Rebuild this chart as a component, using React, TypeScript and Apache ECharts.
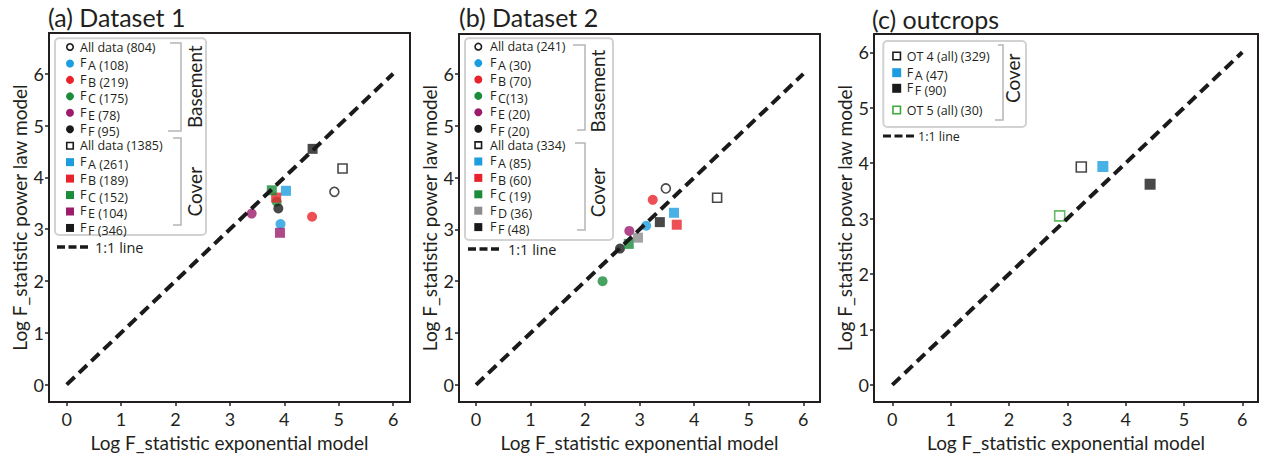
import React, { useEffect, useRef } from "react";
import * as echarts from "echarts";

// ---------- data ----------
const TICKS = [0, 1, 2, 3, 4, 5, 6];
const ONE_TO_ONE = [0, 6];

// Panel (a) Dataset 1
const aBasementNames = ["All data (804)", "F_A (108)", "F_B (219)", "F_C (175)", "F_E (78)", "F_F (95)"];
const aBasementX = [4.92, 3.93, 4.51, 3.86, 3.4, 3.89];
const aBasementY = [3.72, 3.1, 3.24, 3.53, 3.3, 3.4];
const aCoverNames = ["All data (1385)", "F_A (261)", "F_B (189)", "F_C (152)", "F_E (104)", "F_F (346)"];
const aCoverX = [5.07, 4.03, 3.85, 3.77, 3.92, 4.52];
const aCoverY = [4.17, 3.74, 3.61, 3.75, 2.93, 4.55];

// Panel (b) Dataset 2
const bBasementNames = ["All data (241)", "F_A (30)", "F_B (70)", "F_C(13)", "F_E (20)", "F_F (20)"];
const bBasementX = [3.48, 3.12, 3.24, 2.32, 2.81, 2.64];
const bBasementY = [3.79, 3.07, 3.57, 2.0, 2.97, 2.63];
const bCoverNames = ["All data (334)", "F_A (85)", "F_B (60)", "F_C (19)", "F_D (36)", "F_F (48)"];
const bCoverX = [4.42, 3.63, 3.68, 2.8, 2.97, 3.37];
const bCoverY = [3.61, 3.32, 3.09, 2.72, 2.84, 3.14];

// Panel (c) outcrops
const cNames = ["OT 4 (all) (329)", "F_A (47)", "F_F (90)", "OT 5 (all) (30)"];
const cX = [3.24, 3.61, 4.42, 2.87];
const cY = [3.93, 3.94, 3.62, 3.05];

const LINE_NAME = "1:1 line";

// ---------- styles ----------
const FONT = "Lato";
const LFONT = "Open Sans";
const TXT = "#231f20";
const BLUE = "#1b9de0";
const RED = "#e8232b";
const GREEN = "#1a8c3c";
const PURPLE = "#9c1b6b";
const BLACK = "#1a1a1a";
const GRAY = "#8c8c8c";
const OPEN_GREEN = "#3cab3a";

const aBasementColors = ["open", BLUE, RED, GREEN, PURPLE, BLACK];
const aCoverColors = ["open", BLUE, RED, GREEN, PURPLE, BLACK];
const bBasementColors = ["open", BLUE, RED, GREEN, PURPLE, BLACK];
const bCoverColors = ["open", BLUE, RED, GREEN, GRAY, BLACK];
const cColors = ["open", BLUE, BLACK, "openGreen"];

function markerStyle(c: string) {
  if (c === "open") return { color: "#ffffff", borderColor: BLACK, borderWidth: 1.6 };
  if (c === "openGreen") return { color: "#ffffff", borderColor: OPEN_GREEN, borderWidth: 1.6 };
  return { color: c, borderWidth: 0 };
}

function pointSeries(names: string[], xs: number[], ys: number[], colors: string[], symbol: string, idx: number, size: number) {
  return names.map((name, i) => ({
    type: "scatter",
    name,
    xAxisIndex: idx,
    yAxisIndex: idx,
    symbol,
    symbolSize: colors[i].startsWith("open") ? size - 1 : size,
    data: [[xs[i], ys[i]]],
    itemStyle: markerStyle(colors[i]),
    z: 3,
    silent: true,
  }));
}

// ---------- legend drawn with graphic elements ----------
function legendMarker(shape: string, color: string, cx: number, cy: number, s: number) {
  const open = color.startsWith("open");
  const stroke = color === "openGreen" ? OPEN_GREEN : BLACK;
  const style = open
    ? { fill: "#ffffff", stroke, lineWidth: 1.6 }
    : { fill: color, stroke: "none", lineWidth: 0 };
  const size = open ? s - 1.5 : s;
  if (shape === "circle") {
    return { type: "circle", shape: { cx, cy, r: size / 2 }, style, silent: true };
  }
  return { type: "rect", shape: { x: cx - size / 2, y: cy - size / 2, width: size, height: size }, style, silent: true };
}

function legendLabel(name: string, x: number, y: number, fs: number) {
  const base = { fontSize: fs, fontFamily: LFONT, fill: TXT, verticalAlign: "middle", align: "left" };
  if (name.startsWith("F_")) {
    return [
      { type: "text", x, y: y - 0.6, style: { ...base, text: "F" }, silent: true },
      { type: "text", x: x + 8.1, y: y + 2.3, style: { ...base, text: name.slice(2) }, silent: true },
    ];
  }
  return [{ type: "text", x, y, style: { ...base, text: name }, silent: true }];
}

function legendRows(names: string[], shapes: string[], colors: string[], mx: number, tx: number, ys: number[], ms: number, fs: number) {
  const out: any[] = [];
  names.forEach((n, i) => {
    out.push(legendMarker(shapes[i], colors[i], mx, ys[i], ms));
    out.push(...legendLabel(n, tx, ys[i], fs));
  });
  return out;
}

function lineKey(x1: number, x2: number, y: number, tx: number, fs: number, w: number) {
  return [
    {
      type: "line",
      shape: { x1, y1: y, x2, y2: y },
      style: { stroke: BLACK, lineWidth: w, lineDash: [8, 3.5] },
      silent: true,
    },
    {
      type: "text",
      x: tx,
      y,
      style: { text: LINE_NAME, fontSize: fs, fontFamily: LFONT, fill: TXT, verticalAlign: "middle", align: "left" },
      silent: true,
    },
  ];
}

function bracket(x: number, y1: number, y2: number, l1: number, l2: number) {
  return {
    type: "polyline",
    shape: { points: [[l1, y1], [x, y1], [x, y2], [l2, y2]] },
    style: { stroke: "#b5b5b5", lineWidth: 1.5, fill: "none" },
    silent: true,
  };
}
function box(x: number, y: number, w: number, h: number) {
  return {
    type: "rect",
    shape: { x, y, width: w, height: h, r: 4 },
    style: { stroke: "#d2d2d2", lineWidth: 2, fill: "none" },
    silent: true,
  };
}
function vtext(text: string, x: number, y: number) {
  return {
    type: "text",
    x,
    y,
    rotation: Math.PI / 2,
    style: { text, fontSize: 19, fontFamily: FONT, fill: TXT, align: "center", verticalAlign: "middle" },
    silent: true,
  };
}

function axisPair(idx: number, xr: number[], yr: number[]) {
  const label = { customValues: TICKS, fontSize: 18, color: TXT, fontFamily: FONT };
  const tick = { show: true, length: 4, inside: false, customValues: TICKS, lineStyle: { color: TXT, width: 1.5 } };
  const nameStyle = { fontSize: 19, color: TXT, fontFamily: FONT };
  return {
    x: {
      gridIndex: idx,
      type: "value",
      min: xr[0],
      max: xr[1],
      splitLine: { show: false },
      axisLine: { show: false, onZero: false },
      axisTick: tick,
      axisLabel: { ...label, margin: 8 },
      name: "Log F_statistic exponential model",
      nameLocation: "middle",
      nameGap: 24,
      nameTextStyle: nameStyle,
    },
    y: {
      gridIndex: idx,
      type: "value",
      min: yr[0],
      max: yr[1],
      splitLine: { show: false },
      axisLine: { show: false, onZero: false },
      axisTick: tick,
      axisLabel: { ...label, margin: 5 },
      name: "Log F_statistic power law model",
      nameLocation: "middle",
      nameGap: 20,
      nameTextStyle: nameStyle,
    },
  };
}

const rowsY = (y0: number, step: number, n: number) => Array.from({ length: n }, (_, i) => y0 + i * step);

export default function App() {
  const ref = useRef<HTMLDivElement>(null);
  useEffect(() => {
    if (!ref.current) return;
    const chart = echarts.init(ref.current, null, { renderer: "svg" });
    const A = axisPair(0, [-0.325, 6.31], [-0.338, 6.786]);
    const B = axisPair(1, [-0.312, 6.306], [-0.333, 6.77]);
    const C = axisPair(2, [-0.314, 6.27], [-0.31, 6.33]);
    const lineSeries = (idx: number) => ({
      type: "line",
      name: LINE_NAME,
      xAxisIndex: idx,
      yAxisIndex: idx,
      data: ONE_TO_ONE.map((v) => [v, v]),
      symbol: "none",
      lineStyle: { color: BLACK, width: 4, type: [11, 6] },
      z: 4,
      silent: true,
    });
    const titleStyle = { fontSize: 25, fontWeight: "normal", fontFamily: FONT, color: TXT };
    const six = (s: string) => [s, s, s, s, s, s];
    const aNames = [...aBasementNames, ...aCoverNames];
    const bNames = [...bBasementNames, ...bCoverNames];
    const LFS = 12.5;
    chart.setOption({
      animation: false,
      backgroundColor: "#ffffff",
      title: [
        { text: "(a) Dataset 1", left: 48, top: 4, padding: 0, textStyle: titleStyle },
        { text: "(b) Dataset 2", left: 459, top: 4, padding: 0, textStyle: titleStyle },
        { text: "(c) outcrops", left: 872, top: 6, padding: 0, textStyle: titleStyle },
      ],
      grid: [
        { left: 49, top: 33, width: 361, height: 379, show: true, borderColor: TXT, borderWidth: 2, backgroundColor: "transparent" },
        { left: 459, top: 34, width: 361, height: 378, show: true, borderColor: TXT, borderWidth: 2, backgroundColor: "transparent" },
        { left: 874, top: 34, width: 384, height: 377, show: true, borderColor: TXT, borderWidth: 2, backgroundColor: "transparent" },
      ],
      xAxis: [A.x, B.x, C.x],
      yAxis: [A.y, B.y, C.y],
      graphic: [
        // panel (a) legend
        box(55, 38.3, 151, 196.7),
        ...legendRows(aNames, [...six("circle"), ...six("rect")], [...aBasementColors, ...aCoverColors], 70, 80, rowsY(47, 16.45, 12), 8, LFS),
        bracket(181, 43, 131, 170, 168),
        bracket(181, 138, 225, 173, 173),
        vtext("Basement", 194, 86.7),
        vtext("Cover", 194, 191.7),
        ...lineKey(57, 88, 247, 95, 14.5, 3.5),
        // panel (b) legend
        box(465, 38.3, 148, 201.7),
        ...legendRows(bNames, [...six("circle"), ...six("rect")], [...bBasementColors, ...bCoverColors], 478.3, 490, rowsY(46.7, 16.4, 12), 8, LFS),
        bracket(585, 45, 130, 573, 577),
        bracket(585, 143, 230, 575, 577),
        vtext("Basement", 597, 91),
        vtext("Cover", 597, 192.5),
        ...lineKey(468, 500, 249, 508, 14.5, 3.5),
        // panel (c) legend
        box(883.3, 41, 142.7, 86),
        ...legendRows(cNames, ["rect", "rect", "rect", "rect"], cColors, 896.7, 906.7, [56, 72.7, 88.3, 110], 9, LFS),
        bracket(1003, 45, 120, 998, 995),
        vtext("Cover", 1012.5, 78.3),
        ...lineKey(883, 914, 136, 918, 12.5, 3),
      ],
      series: [
        ...pointSeries(aBasementNames, aBasementX, aBasementY, aBasementColors, "circle", 0, 10),
        ...pointSeries(aCoverNames, aCoverX, aCoverY, aCoverColors, "rect", 0, 10),
        lineSeries(0),
        ...pointSeries(bBasementNames, bBasementX, bBasementY, bBasementColors, "circle", 1, 10),
        ...pointSeries(bCoverNames, bCoverX, bCoverY, bCoverColors, "rect", 1, 10),
        lineSeries(1),
        ...pointSeries(cNames, cX, cY, cColors, "rect", 2, 11),
        lineSeries(2),
      ],
    });
    return () => chart.dispose();
  }, []);
  return <div ref={ref} style={{ position: "absolute", left: 0, top: 0, width: 1261, height: 457 }} />;
}
